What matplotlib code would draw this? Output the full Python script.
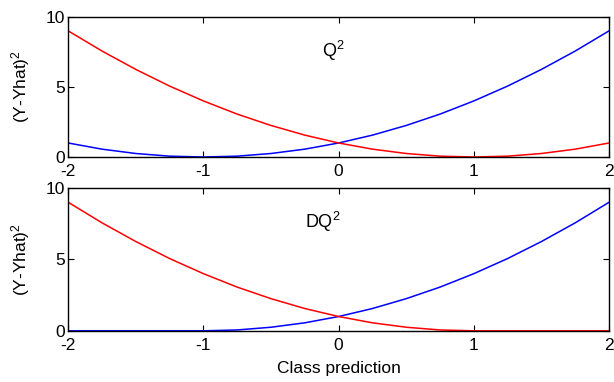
import matplotlib.pyplot as plt

# values, x step 0.25
x = [-2, -1.75, -1.5, -1.25, -1, -0.75, -0.5, -0.25, 0,
     0.25, 0.5, 0.75, 1, 1.25, 1.5, 1.75, 2]
q_blue = [1, 0.56, 0.25, 0.06, 0, 0.06, 0.25, 0.56, 1,
          1.56, 2.25, 3.06, 4, 5.06, 6.25, 7.56, 9]
q_red = [9, 7.56, 6.25, 5.06, 4, 3.06, 2.25, 1.56, 1,
         0.56, 0.25, 0.06, 0, 0.06, 0.25, 0.56, 1]
dq_blue = [0, 0, 0, 0, 0, 0.06, 0.25, 0.56, 1,
           1.56, 2.25, 3.06, 4, 5.06, 6.25, 7.56, 9]
dq_red = [9, 7.56, 6.25, 5.06, 4, 3.06, 2.25, 1.56, 1,
          0.56, 0.25, 0.06, 0, 0, 0, 0, 0]
xticks = [-2, -1, 0, 1, 2]
yticks = [0, 5, 10]

plt.rcParams['font.family'] = 'Liberation Sans'
plt.rcParams['font.size'] = 12.5
plt.rcParams['mathtext.default'] = 'regular'
plt.rcParams['axes.unicode_minus'] = False

fig = plt.figure(figsize=(6.14, 3.82), dpi=100)
ax1 = fig.add_axes([0.111, 0.589, 0.881, 0.367])
ax2 = fig.add_axes([0.111, 0.134, 0.881, 0.374])

for ax, blue, red, label, lx, ly in [(ax1, q_blue, q_red, 'Q$^2$', -0.12, 7.1),
                                     (ax2, dq_blue, dq_red, 'DQ$^2$', -0.25, 7.2)]:
    ax.plot(x, blue, color='blue', lw=1.1)
    ax.plot(x, red, color='red', lw=1.1)
    ax.set_xlim(-2, 2)
    ax.set_ylim(0, 10)
    ax.set_xticks(xticks)
    ax.set_yticks(yticks)
    ax.tick_params(direction='in', top=True, right=True, length=4, width=0.8, pad=2)
    ax.tick_params(axis='x', pad=5)
    for s in ax.spines.values():
        s.set_linewidth(1.0)
    ax.set_ylabel('(Y-Yhat)$^2$', labelpad=10)
    ax.text(lx, ly, label, fontsize=13)

ax2.set_xlabel('Class prediction', labelpad=6)

fig.savefig('out.png', dpi=100)
